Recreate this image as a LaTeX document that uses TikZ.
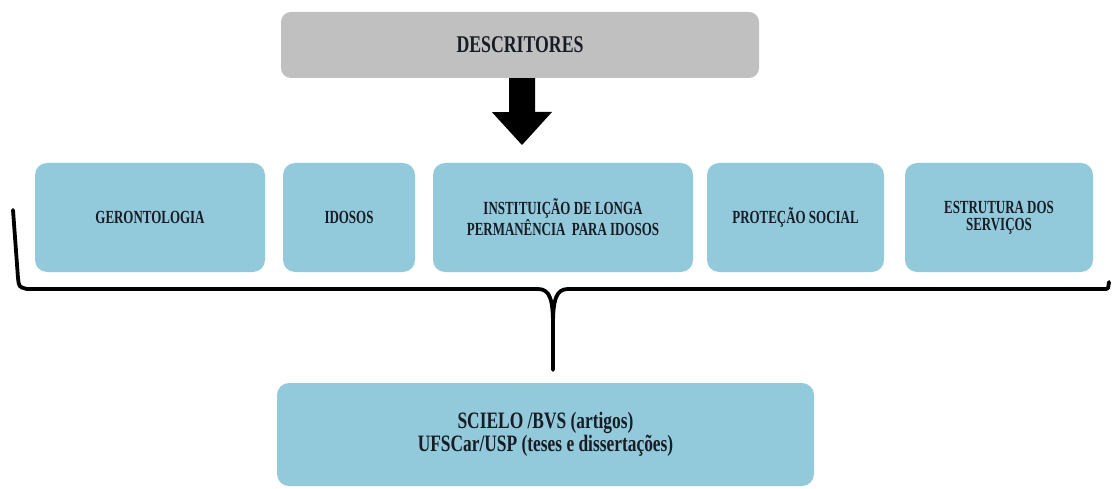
\documentclass[tikz,border=0pt]{standalone}
\usepackage{fontspec}
\newfontfamily\lab{Liberation Serif}[FakeStretch=0.70]
\newfontfamily\labw{Liberation Serif}[FakeStretch=0.74]
\definecolor{boxblue}{RGB}{146,202,220}
\definecolor{boxgrey}{RGB}{192,192,192}
\definecolor{txt}{RGB}{24,28,36}
\begin{document}
\begin{tikzpicture}[x=1pt,y=-1pt,
  blue box/.style={fill=boxblue,draw=none,rounded corners=12pt,align=center,
    text=txt,font=\lab\bfseries\fontsize{18.5}{17}\selectfont,inner sep=0pt},
  grey box/.style={fill=boxgrey,draw=none,rounded corners=10pt,align=center,
    text=txt,font=\labw\bfseries\fontsize{24}{24}\selectfont,inner sep=0pt},
  brace line/.style={line width=3.8pt,line cap=round,line join=round,draw=black}]
\useasboundingbox (0,0) rectangle (1113,489);
% top descriptor box
\node[grey box,minimum width=478pt,minimum height=66pt] (desc) at (520,45) {DESCRITORES};
% keyword boxes
\node[blue box,minimum width=230pt,minimum height=109pt] (b1) at (150,217.5) {GERONTOLOGIA};
\node[blue box,minimum width=132pt,minimum height=109pt] (b2) at (349,217.5) {IDOSOS};
\node[blue box,minimum width=260pt,minimum height=109pt] (b3) at (563,217.5) {INSTITUIÇÃO DE LONGA\\PERMANÊNCIA\ \ PARA IDOSOS};
\node[blue box,minimum width=177pt,minimum height=109pt] (b4) at (795.5,217.5) {PROTEÇÃO SOCIAL};
\node[blue box,minimum width=188pt,minimum height=109pt] (b5) at (999,217.5) {ESTRUTURA DOS\\SERVIÇOS};
% bottom source box
\node[blue box,font=\labw\bfseries\fontsize{23.5}{19}\selectfont,minimum width=537pt,minimum height=103pt] (src) at (545.5,434.5) {SCIELO /BVS (artigos)\\UFSCar/USP (teses e dissertações)};
% block arrow from descriptors to the keyword row
\fill[black] ([xshift=-13pt]desc.south -| 522,0) -- ++(0,34) -- ++(-17,0)
  -- (522,145) -- (552,112) -- (535,112) -- (535,78) -- cycle;
% brace collecting the keyword boxes
\coordinate (bl) at (13,210);
\coordinate (br) at (1109,282);
\coordinate (tip) at (553,370);
\draw[brace line] (bl) -- (18,278) .. controls (19,287) .. (27,289)
  -- (538,289) .. controls (550,289) and (553,300) .. (553,325) -- (tip);
\draw[brace line] (553,325) .. controls (553,300) and (556,289) .. (568,289)
  -- (1106,289) .. controls (1108,289) .. (br);
\end{tikzpicture}
\end{document}
